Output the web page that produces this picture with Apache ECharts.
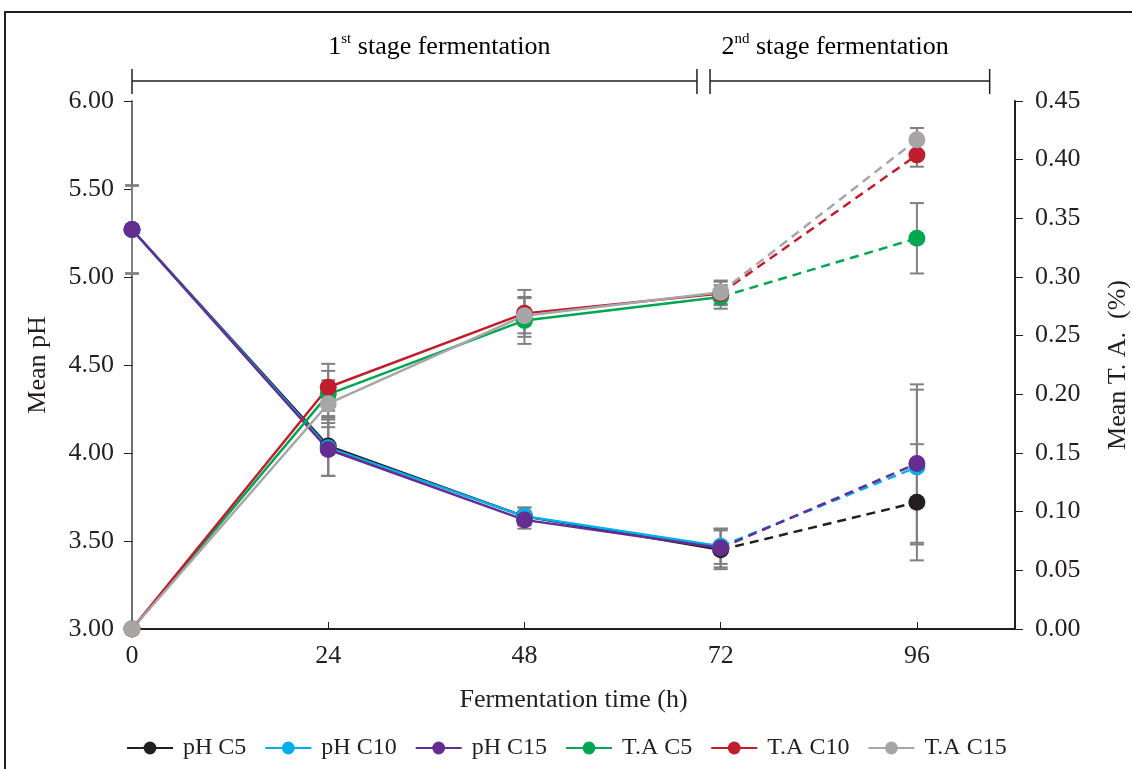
<!DOCTYPE html>
<html>
<head>
<meta charset="utf-8">
<title>pH and T.A during fermentation</title>
<script src="https://cdn.jsdelivr.net/npm/echarts@6/dist/echarts.min.js"></script>
<style>
  html, body { margin: 0; padding: 0; background: #fff; }
  #chart { width: 1132px; height: 769px; }
</style>
</head>
<body>
<div id="chart"></div>
<script>
// fermentation time (h)
var hours = [0, 24, 48, 72, 96];

// mean pH
var phC5 = [5.27, 4.04, 3.64, 3.45, 3.72];
var phC10 = [5.27, 4.03, 3.64, 3.47, 3.92];
var phC15 = [5.27, 4.02, 3.62, 3.46, 3.94];
var phC5Err = [0.25, 0.17, 0.05, 0.11, 0.33];
var phC10Err = [0.25, 0.16, 0.05, 0.10, 0.44];
var phC15Err = [0.25, 0.15, 0.05, 0.11, 0.45];

// mean T.A. (%)
var taC5 = [0, 0.200, 0.263, 0.283, 0.333];
var taC10 = [0, 0.206, 0.269, 0.286, 0.404];
var taC15 = [0, 0.192, 0.267, 0.287, 0.417];
var taC5Err = [0, 0.02, 0.02, 0.01, 0.03];
var taC10Err = [0, 0.02, 0.02, 0.01, 0.01];
var taC15Err = [0, 0.02, 0.015, 0.01, 0.01];

var FONT = 'Liberation Serif';

var lines = [
    { name: 'pH C5', data: phC5, err: phC5Err, color: '#231f20', axis: 0 },
    { name: 'pH C10', data: phC10, err: phC10Err, color: '#00aeef', axis: 0 },
    { name: 'pH C15', data: phC15, err: phC15Err, color: '#662d91', axis: 0 },
    { name: 'T.A C5', data: taC5, err: taC5Err, color: '#00a651', axis: 1 },
    { name: 'T.A C10', data: taC10, err: taC10Err, color: '#be1e2d', axis: 1 },
    { name: 'T.A C15', data: taC15, err: taC15Err, color: '#a7a5a6', axis: 1 }
];

function errorBars(axis) {
    var data = [];
    lines.forEach(function (l) {
        if (l.axis !== axis) return;
        hours.forEach(function (h, i) {
            if (l.err[i] > 0) data.push([h, l.data[i], l.err[i]]);
        });
    });
    return {
        type: 'custom',
        yAxisIndex: axis,
        z: 1,
        silent: true,
        data: data,
        encode: { x: 0, y: 1 },
        renderItem: function (params, api) {
            var x = api.value(0), y = api.value(1), e = api.value(2);
            var top = api.coord([x, y + e]);
            var bot = api.coord([x, y - e]);
            var st = { stroke: '#808080', lineWidth: 2 };
            return {
                type: 'group',
                children: [
                    { type: 'line', shape: { x1: top[0], y1: top[1], x2: bot[0], y2: bot[1] }, style: st },
                    { type: 'line', shape: { x1: top[0] - 7, y1: top[1], x2: top[0] + 7, y2: top[1] }, style: st },
                    { type: 'line', shape: { x1: bot[0] - 7, y1: bot[1], x2: bot[0] + 7, y2: bot[1] }, style: st }
                ]
            };
        }
    };
}

var series = [errorBars(0), errorBars(1)];

lines.forEach(function (l) {
    // solid part: 0-72 h
    series.push({
        name: l.name,
        type: 'line',
        yAxisIndex: l.axis,
        data: hours.slice(0, 4).map(function (h, i) { return [h, l.data[i]]; }),
        symbol: 'circle',
        symbolSize: 17,
        itemStyle: { color: l.color },
        lineStyle: { color: l.color, width: 2.5 },
        z: 3
    });
    // dashed part: 72-96 h
    series.push({
        name: l.name,
        type: 'line',
        yAxisIndex: l.axis,
        data: [
            { value: [hours[3], l.data[3]], symbol: 'none' },
            [hours[4], l.data[4]]
        ],
        symbol: 'circle',
        symbolSize: 17,
        itemStyle: { color: l.color },
        lineStyle: { color: l.color, width: 2.5, type: [9, 6] },
        z: 3
    });
});

var myChart = echarts.init(document.getElementById('chart'));

myChart.setOption({
    backgroundColor: '#fff',
    animation: false,
    textStyle: { fontFamily: FONT, color: '#231f20' },
    grid: { left: 132, right: 117, top: 101, bottom: 140, containLabel: false, outerBoundsMode: 'none' },
    legend: {
        data: lines.map(function (l) { return l.name; }),
        bottom: 4,
        left: 121,
        itemWidth: 46,
        itemHeight: 16,
        itemGap: 18,
        textStyle: { fontFamily: FONT, fontSize: 24, color: '#231f20', padding: [0, 0, 0, 5] }
    },
    xAxis: {
        type: 'value',
        min: 0,
        max: 108,
        interval: 24,
        name: 'Fermentation time (h)',
        nameLocation: 'middle',
        nameGap: 58,
        nameTextStyle: { fontFamily: FONT, fontSize: 26, color: '#231f20' },
        axisLine: { lineStyle: { color: '#231f20', width: 2 } },
        axisTick: { inside: true, length: 7, lineStyle: { color: '#231f20' } },
        axisLabel: {
            fontFamily: FONT, fontSize: 26, color: '#231f20', margin: 14,
            formatter: function (v) { return v > 96 ? '' : v; }
        },
        splitLine: { show: false }
    },
    yAxis: [{
        type: 'value',
        min: 3,
        max: 6,
        interval: 0.5,
        name: 'Mean pH',
        nameLocation: 'middle',
        nameGap: 81,
        nameTextStyle: { fontFamily: FONT, fontSize: 26, color: '#231f20' },
        axisLine: { show: true, lineStyle: { color: '#6d6e71', width: 2 } },
        axisTick: { show: true, length: 8, lineStyle: { color: '#231f20' } },
        axisLabel: {
            fontFamily: FONT, fontSize: 26, color: '#231f20', margin: 18,
            formatter: function (v) { return v.toFixed(2); }
        },
        splitLine: { show: false }
    }, {
        type: 'value',
        min: 0,
        max: 0.45,
        interval: 0.05,
        name: 'Mean T. A.  (%)',
        nameLocation: 'middle',
        nameGap: 90,
        nameRotate: 90,
        nameTextStyle: { fontFamily: FONT, fontSize: 26, color: '#231f20' },
        axisLine: { show: true, lineStyle: { color: '#231f20', width: 2 } },
        axisTick: { show: true, length: 8, lineStyle: { color: '#231f20' } },
        axisLabel: {
            fontFamily: FONT, fontSize: 26, color: '#231f20', margin: 20,
            formatter: function (v) { return v.toFixed(2); }
        },
        splitLine: { show: false }
    }],
    series: series
});

// stage brackets above the plot, placed from hour values
var stageY = 81;
function px(h) { return myChart.convertToPixel({ xAxisIndex: 0 }, h); }
function bracket(h1, h2) {
    var a = px(h1), b = px(h2);
    var st = { stroke: '#231f20', lineWidth: 1.5 };
    return [
        { type: 'line', shape: { x1: a, y1: stageY, x2: b, y2: stageY }, style: st },
        { type: 'line', shape: { x1: a, y1: stageY - 12, x2: a, y2: stageY + 13 }, style: st },
        { type: 'line', shape: { x1: b, y1: stageY - 12, x2: b, y2: stageY + 13 }, style: st }
    ];
}
function stageText(h, ord, sup) {
    return {
        type: 'text',
        x: px(h),
        y: 47,
        style: {
            text: '{n|' + ord + '}{s|' + sup + '}{n| stage fermentation}',
            align: 'center',
            verticalAlign: 'middle',
            rich: {
                n: { fontFamily: FONT, fontSize: 26, color: '#231f20', lineHeight: 30 },
                s: { fontFamily: FONT, fontSize: 15, color: '#231f20', verticalAlign: 'top', lineHeight: 30 }
            }
        }
    };
}

myChart.setOption({
    graphic: [
        { type: 'rect', shape: { x: 5, y: 12, width: 1140, height: 780 },
          style: { fill: 'none', stroke: '#231f20', lineWidth: 2 }, silent: true },
        stageText(37.6, '1', 'st'),
        stageText(86, '2', 'nd')
    ].concat(bracket(0, 69.1), bracket(70.7, 104.9))
});
</script>
</body>
</html>
